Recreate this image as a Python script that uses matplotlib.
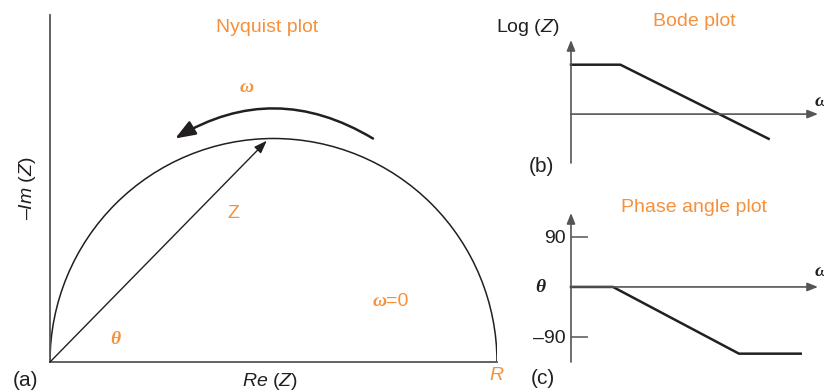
import matplotlib
matplotlib.use('Agg')
import matplotlib.pyplot as plt
from matplotlib.patches import Arc, FancyArrowPatch

plt.rcParams['font.family'] = 'Liberation Sans'
plt.rcParams['font.size'] = 14
plt.rcParams['mathtext.fontset'] = 'custom'
plt.rcParams['mathtext.rm'] = 'Liberation Sans'
plt.rcParams['mathtext.it'] = 'Liberation Sans:italic'

# nyquist: semicircle of diameter R, impedance vector Z and the omega sweep arrow
R = 2.0
z_tip = (0.97, 0.99)
sweep_from = (1.445, 1.0)
sweep_to = (0.56, 1.0)

# bode magnitude (log Z against omega)
bode_w = [0, 1, 4]
bode_logz = [1, 1, -0.5]

# phase angle against omega
phase_w = [0, 0.85, 3.4, 4.65]
phase_deg = [0, 0, -120, -120]
phase_ticks = [90, -90]
phase_ticklabels = ['90', '–90']

ORANGE = '#F5913C'
INK = '#231F20'
AXIS = '#555555'

W, H = 824, 392
fig = plt.figure(figsize=(W / 100, H / 100), dpi=100)


def box(l, t, r, b):
    return [l / W, 1 - b / H, (r - l) / W, (b - t) / H]


def label(x, y, s, **kw):
    kw.setdefault('ha', 'center')
    kw.setdefault('va', 'center')
    kw.setdefault('color', INK)
    fig.text(x / W, 1 - y / H, s, **kw)


def greek(x, y, s, **kw):
    label(x, y, s, family='Liberation Serif', style='italic',
          weight='bold', **kw)


def axis_arrow(ax, start, end):
    ax.annotate('', xy=end, xytext=start, annotation_clip=False,
                arrowprops=dict(arrowstyle='-|>,head_length=0.45,head_width=0.18',
                                color=AXIS, lw=1.2, shrinkA=0, shrinkB=0,
                                mutation_scale=14))


# (a) Nyquist
ax = fig.add_axes(box(50, 15, 497, 362))
ax.set_xlim(0, R)
ax.set_ylim(0, 347 / 223.5)
ax.patch.set_alpha(0)
for side in ['top', 'right']:
    ax.spines[side].set_visible(False)
for side in ['left', 'bottom']:
    ax.spines[side].set_color(AXIS)
    ax.spines[side].set_linewidth(1.3)
ax.set_xticks([])
ax.set_yticks([])
ax.add_patch(Arc((R / 2, 0), R, R, theta1=0, theta2=180, color=INK, lw=1.1))
ax.annotate('', xy=z_tip, xytext=(0, 0),
            arrowprops=dict(arrowstyle='-|>,head_length=0.55,head_width=0.2',
                            color=INK, lw=1.0, shrinkA=0, shrinkB=0,
                            mutation_scale=14))
ax.add_patch(FancyArrowPatch(sweep_from, sweep_to,
                             connectionstyle='arc3,rad=0.3',
                             arrowstyle='-|>,head_length=0.87,head_width=0.33',
                             mutation_scale=14, lw=1.8, color=INK,
                             shrinkA=0, shrinkB=0))

label(267, 27, 'Nyquist plot', color=ORANGE)
greek(247, 87, 'ω', color=ORANGE)
label(233, 214, 'Z', color=ORANGE)
greek(115, 339, 'θ', color=ORANGE)
greek(380, 302, 'ω', color=ORANGE)
label(386, 302, '=0', color=ORANGE, ha='left')
label(28, 188, '–$\\mathit{Im}$ ($\\mathit{Z}$)', rotation=90)
label(270, 381, '$\\mathit{Re}$ ($\\mathit{Z}$)')
label(496, 376, 'R', color=ORANGE, style='italic')
label(25, 380, '(a)', fontsize=15)

# (b) Bode
bx = fig.add_axes(box(571, 40, 818, 163))
bx.set_xlim(0, 5)
bx.set_ylim(-0.99, 1.5)
bx.axis('off')
axis_arrow(bx, (0, -0.99), (0, 1.5))
axis_arrow(bx, (0, 0), (5, 0))
bx.plot(bode_w, bode_logz, color=INK, lw=1.8, clip_on=False)

label(694, 22, 'Bode plot', color=ORANGE)
label(528, 28, 'Log ($\\mathit{Z}$)')
label(541, 166, '(b)', fontsize=15)
greek(815, 101, 'ω', ha='left')

# (c) phase angle
px = fig.add_axes(box(571, 213, 818, 362))
px.set_xlim(0, 5)
px.set_ylim(-135, 133)
px.patch.set_alpha(0)
for s in px.spines.values():
    s.set_visible(False)
px.set_xticks([])
px.set_yticks(phase_ticks)
px.set_yticklabels(phase_ticklabels)
px.tick_params(axis='y', direction='in', length=12.5, width=1.1,
               color=AXIS, pad=4, labelsize=14, labelcolor=INK)
axis_arrow(px, (0, -135), (0, 133))
axis_arrow(px, (0, 0), (5, 0))
px.plot(phase_w, phase_deg, color=INK, lw=1.8, clip_on=False)

label(694, 208, 'Phase angle plot', color=ORANGE)
greek(540, 288, 'θ')
label(543, 378, '(c)', fontsize=15)
greek(815, 272, 'ω', ha='left')

fig.savefig('out.png', dpi=100)
